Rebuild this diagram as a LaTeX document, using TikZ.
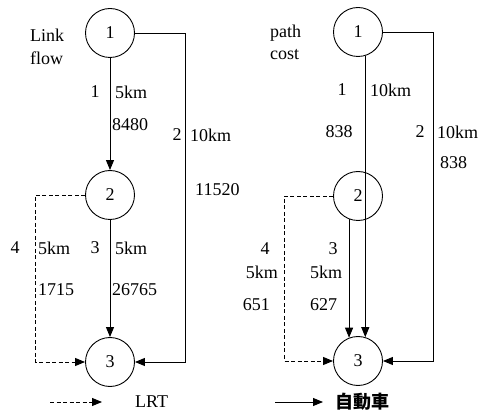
\documentclass[tikz,border=0pt]{standalone}
\usepackage{fontspec}
\setmainfont{Liberation Serif}
\newfontfamily\cjk{Noto Sans CJK TC}
\usetikzlibrary{arrows.meta}
\begin{document}
\begin{tikzpicture}[x=1pt,y=-1pt,
  every node/.style={font=\fontsize{18}{20}\selectfont, inner sep=0pt},
  nd/.style={circle, draw, line width=0.9pt, minimum size=49pt},
  ln/.style={line width=0.9pt},
  arr/.style={ln, -{Triangle[length=10pt,width=8pt]}},
  dsh/.style={dash pattern=on 4pt off 2.5pt}
]
\useasboundingbox (0,0) rectangle (493,414);
% ---------- left panel ----------
\node[nd] (a1) at (110,33) {1};
\node[nd] (a2) at (110,195) {2};
\node[nd] (a3) at (110,362) {3};
\draw[arr] (a1) -- (a2);
\draw[arr] (a2) -- (a3);
\draw[arr] (a1.east) -- ++(50,0) |- (a3.east);
\draw[arr,dsh] (a2.west) -- ++(-50,0) |- (a3.west);
\node[anchor=west] (tl1) at (30,35) {Link};
\node[anchor=west] (tl2) at (30,58) {flow};
\node (la1) at (95,92) {1};
\node[anchor=west] (la2) at (115,92) {5km};
\node[anchor=west] (la3) at (112,125) {8480};
\node (lb1) at (177,135) {2};
\node[anchor=west] (lb2) at (190,135) {10km};
\node[anchor=west] (lb3) at (195,190) {11520};
\node (lc1) at (15,248) {4};
\node[anchor=west] (lc2) at (38,248) {5km};
\node[anchor=west] (lc3) at (38,290) {1715};
\node (ld1) at (95,248) {3};
\node[anchor=west] (ld2) at (115,248) {5km};
\node[anchor=west] (ld3) at (112,290) {26765};
\coordinate (g1) at (50,402);
\coordinate (g2) at (102,402);
\draw[arr,dsh] (g1) -- (g2);
\node[anchor=west] (glrt) at (135,402) {LRT};
% ---------- right panel ----------
\node[nd] (b1) at (358,32) {1};
\node[nd] (b2) at (358,196) {2};
\node[nd] (b3) at (358,361) {3};
\draw[arr] (b1.-73.4) -- (b3.73.4);
\draw[arr] (b2.-111.5) -- (b3.111.5);
\draw[arr] (b1.east) -- ++(50,0) |- (b3.east);
\draw[arr,dsh] (b2.west) -- ++(-49,0) |- (b3.west);
\node[anchor=west] (tr1) at (270,33) {path};
\node[anchor=west] (tr2) at (270,55) {cost};
\node (ra1) at (342,90) {1};
\node[anchor=west] (ra2) at (370,90) {10km};
\node (ra3) at (339,132) {838};
\node (rb1) at (420,132) {2};
\node[anchor=west] (rb2) at (437,132) {10km};
\node[anchor=west] (rb3) at (440,163) {838};
\node (rc1) at (265,249) {4};
\node[anchor=east] (rc2) at (278,272) {5km};
\node[anchor=east] (rc3) at (270,305) {651};
\node (rd1) at (333,249) {3};
\node[anchor=west] (rd2) at (310,272) {5km};
\node[anchor=west] (rd3) at (310,305) {627};
\coordinate (h1) at (275,402);
\coordinate (h2) at (323,402);
\draw[arr] (h1) -- (h2);
\node[anchor=west] (gcar) at (335,402) {\cjk\bfseries 自動車};
\end{tikzpicture}
\end{document}
